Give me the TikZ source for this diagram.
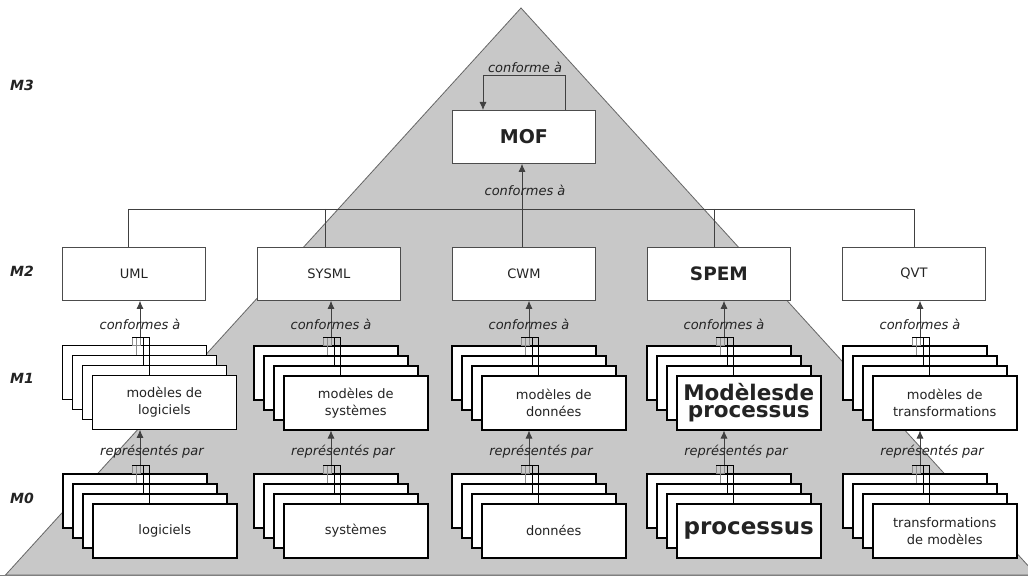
\documentclass[tikz,border=0pt]{standalone}
\usepackage{fontspec}
\setmainfont{DejaVu Sans}
\usetikzlibrary{arrows.meta}
\definecolor{tri}{RGB}{200,200,200}
\definecolor{txt}{RGB}{35,35,35}
\tikzset{
  lvl/.style={font=\fontsize{14}{16}\selectfont\bfseries\itshape, text=txt, inner sep=0},
  lab/.style={font=\fontsize{13}{15}\selectfont\itshape, text=txt, inner sep=0},
  mbox/.style={draw=black!70, fill=white, line width=0.8pt, minimum width=143pt, minimum height=53pt, inner sep=0, anchor=north west, font=\fontsize{13}{15}\selectfont, text=txt},
  sbox/.style={draw=black, fill=white, minimum width=144pt, minimum height=54pt, inner sep=0, anchor=north west, align=center, font=\fontsize{13}{17}\selectfont, text=txt},
  arr/.style={-{Latex[length=8pt,width=7pt]}, draw=black!75, line width=0.8pt},
  wire/.style={draw=black!75, line width=0.8pt},
  fwire/.style={draw=black!45, line width=0.6pt},
  bwire/.style={draw=black, line width=0.7pt},
}
% #1 name, #2 x0, #3 y0, #4 line width, #5 text
\newcommand\mkstack[5]{%
  \foreach \k in {0,1,2}{\node[sbox, line width=#4] (#1\k) at (#2+10*\k, #3+10*\k) {};}
  \node[sbox, line width=#4] (#13) at (#2+30, #3+30) {#5};
  \coordinate (#1j) at (#2+78, #3-8);
  \draw[fwire] ([xshift=-8pt]#1j) rectangle (#1j |- #10.north);
  \draw[fwire] ([xshift=-4pt]#1j) -- ([xshift=-4pt]#1j |- #11.north);
  \draw[bwire] ([xshift=3pt]#1j) -- ([xshift=3pt]#1j |- #12.north);
  \draw[bwire] ([xshift=9pt]#1j) -- ([xshift=9pt]#1j |- #13.north);
  \draw[bwire] ([xshift=-8pt]#1j) -- ([xshift=9pt]#1j);
}
\begin{document}
\begin{tikzpicture}[x=1pt, y=-1pt]
\useasboundingbox (0,0) rectangle (1028,577);
\clip (0,0) rectangle (1028,577);
\fill[white] (0,0) rectangle (1028,577);
% pyramid
\draw[fill=tri, draw=black!60, line width=0.8pt] (521,8) -- (5.5,575) -- (1036.5,575) -- cycle;
\draw[draw=black!50, line width=0.8pt] (0,575) -- (1028,575);

% level labels
\node[lvl] (m3) at (22,85) {M3};
\node[lvl] (m2) at (22,271) {M2};
\node[lvl] (m1) at (22,378) {M1};
\node[lvl] (m0) at (22,498) {M0};

% MOF
\node[mbox, font=\fontsize{19}{21}\selectfont\bfseries] (mof) at (452,110) {MOF};
\coordinate (loopr) at (565,75);
\coordinate (loopl) at (483,75);
\draw[arr] (loopr |- mof.north) -- (loopr) -- (loopl) -- (loopl |- mof.north);
\node[lab] (lconf) at (525,67) {conforme à};

% M2 boxes
\node[mbox] (uml) at (62,247) {UML};
\node[mbox] (sysml) at (257,247) {SYSML};
\node[mbox] (cwm) at (452,247) {CWM};
\node[mbox, font=\fontsize{18.5}{20}\selectfont\bfseries] (spem) at (647,247) {SPEM};
\node[mbox] (qvt) at (842,247) {QVT};

% bus
\coordinate (bu) at (128,209);
\coordinate (bs) at (325,209);
\coordinate (bc) at (522,209);
\coordinate (bp) at (714,209);
\coordinate (bq) at (914,209);
\draw[wire] (bu) -- (bq);
\draw[wire] (bu) -- (bu |- uml.north);
\draw[wire] (bs) -- (bs |- sysml.north);
\draw[wire] (bc) -- (bc |- cwm.north);
\draw[wire] (bp) -- (bp |- spem.north);
\draw[wire] (bq) -- (bq |- qvt.north);
\draw[arr] (bc) -- (bc |- mof.south);
\node[lab] (lmof) at (525,190) {conformes à};

% M1 stacks
\mkstack{ua}{62}{345}{0.8pt}{modèles de\\logiciels}
\mkstack{sa}{253}{345}{1.5pt}{modèles de\\systèmes}
\mkstack{ca}{451}{345}{1.5pt}{modèles de\\données}
\mkstack{pa}{646}{345}{1.5pt}{\fontsize{21.5}{21}\selectfont\bfseries Modèlesde\\\fontsize{21.5}{21}\selectfont\bfseries processus}
\mkstack{qa}{842}{345}{1.5pt}{modèles de\\transformations}

% M0 stacks
\mkstack{ub}{62}{473}{1.5pt}{logiciels}
\mkstack{sb}{253}{473}{1.5pt}{systèmes}
\mkstack{cb}{451}{473}{1.5pt}{données}
\mkstack{pb}{646}{473}{1.5pt}{\fontsize{23}{25}\selectfont\bfseries processus}
\mkstack{qb}{842}{473}{1.5pt}{transformations\\de modèles}

% arrows M1 -> M2
\foreach \s/\t in {ua/uml, sa/sysml, ca/cwm, pa/spem, qa/qvt}{
  \draw[arr] (\s j) -- (\s j |- \t.south);
  \node[lab] (\s l) at ([yshift=13pt]\s j) {conformes à};
}
% arrows M0 -> M1
\foreach \s/\t in {ub/ua, sb/sa, cb/ca, pb/pa, qb/qa}{
  \draw[arr] (\s j) -- (\s j |- \t 3.south);
  \node[lab] (\s l) at ([xshift=12pt, yshift=13pt]\s j) {représentés par};
}
\end{tikzpicture}
\end{document}
